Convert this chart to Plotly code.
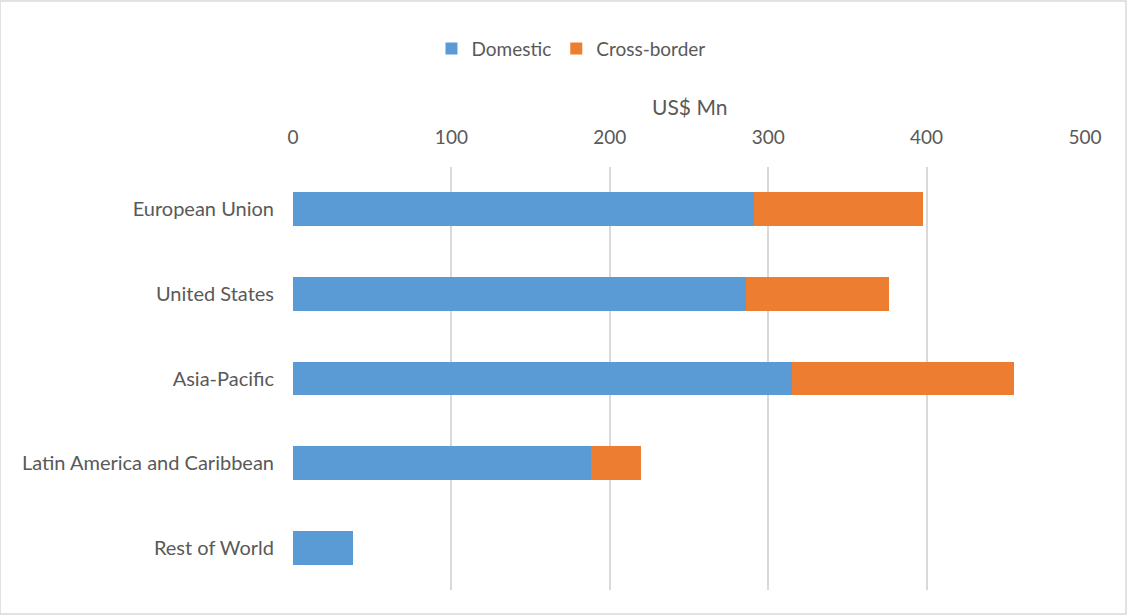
import plotly.graph_objects as go

regions = ["European Union", "United States", "Asia-Pacific",
           "Latin America and Caribbean", "Rest of World"]
domestic = [291, 286, 315, 188, 38]
cross_border = [107, 90, 140, 32, 0]
x_ticks = [0, 100, 200, 300, 400, 500]

font_family = "Lato, 'Open Sans', sans-serif"
text_color = "#595959"

fig = go.Figure()
fig.add_trace(go.Bar(
    y=regions, x=domestic, name="Domestic", orientation="h",
    marker=dict(color="#5B9BD5", line=dict(width=0)),
))
fig.add_trace(go.Bar(
    y=regions, x=cross_border, name="Cross-border", orientation="h",
    marker=dict(color="#ED7D31", line=dict(width=0)),
))

fig.update_layout(
    width=1127, height=615,
    barmode="stack", bargap=0.6,
    paper_bgcolor="white", plot_bgcolor="white",
    margin=dict(l=293, r=42, t=167, b=25),
    font=dict(family=font_family, size=19, color=text_color),
    showlegend=True,
    legend=dict(orientation="h", x=0.351, xanchor="center",
                y=1.28, yanchor="middle", yref="paper",
                font=dict(size=19, color=text_color),
                itemwidth=30, traceorder="normal"),
    xaxis=dict(side="top", range=[0, 500], tickvals=x_ticks,
               showgrid=True, gridcolor="#d9d9d9", gridwidth=1.5,
               zeroline=False, showline=False, ticks="",
               ticklabelstandoff=18, tickfont=dict(size=19, color=text_color),
               fixedrange=True),
    yaxis=dict(autorange="reversed", showgrid=False, zeroline=False,
               showline=False, ticks="", ticklabelstandoff=18,
               tickfont=dict(size=20, color=text_color), fixedrange=True),
    annotations=[dict(text="US$ Mn", xref="paper", yref="paper",
                      x=0.5, y=1.144, xanchor="center", yanchor="middle",
                      showarrow=False, font=dict(size=21, color=text_color))],
    shapes=[dict(type="rect", xref="paper", yref="paper",
                 x0=-293/792, x1=1+41/792, y0=-24/423, y1=1+166/423,
                 line=dict(color="#d9d9d9", width=1.5))],
)

fig.write_html("out.html")
